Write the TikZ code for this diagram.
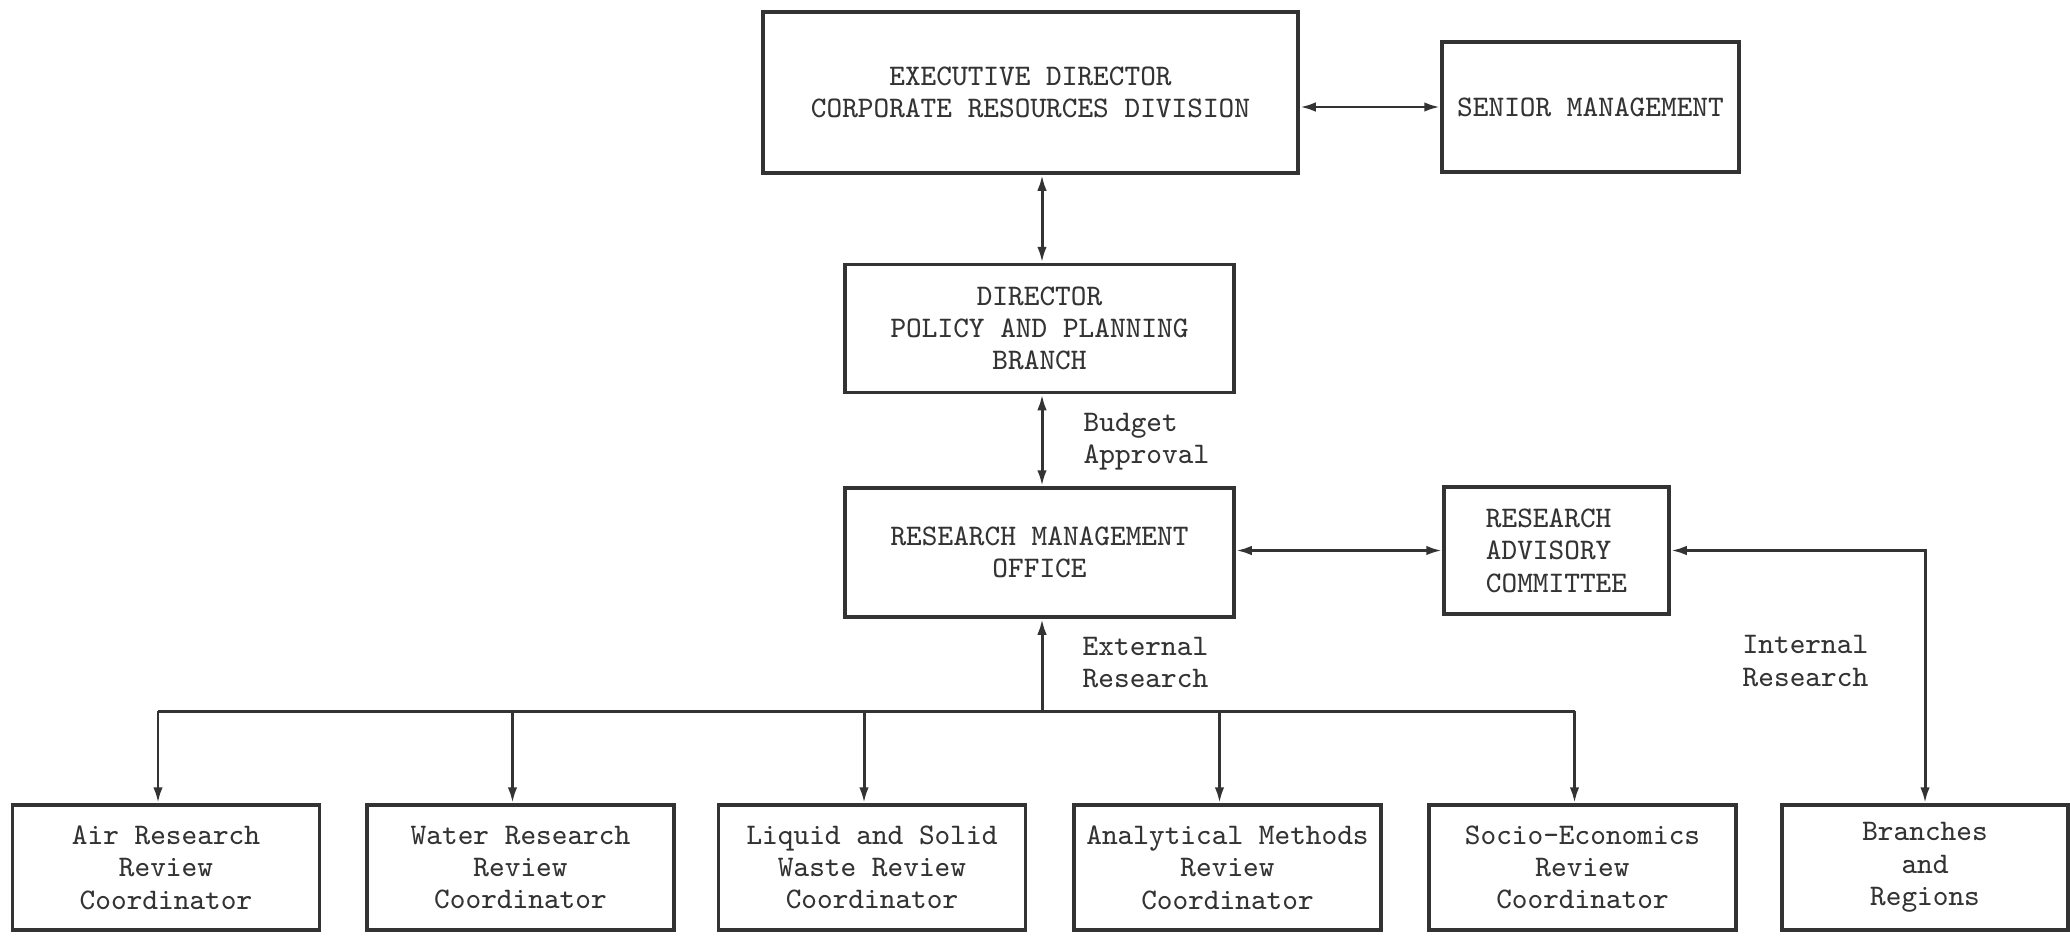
\documentclass[tikz,border=0pt]{standalone}
\usepackage{xcolor}
\usepackage{tikz}
\usetikzlibrary{arrows.meta}
\definecolor{inkgray}{rgb}{0.2, 0.2, 0.2}
\tikzstyle{conn} = [line width=0.85pt, draw=inkgray, {Latex[length=1.6mm,width=0.95mm]}-{Latex[length=1.6mm,width=0.95mm]}]
\tikzstyle{drop} = [line width=0.85pt, draw=inkgray, -{Latex[length=1.6mm,width=0.95mm]}]

\begin{document}
\begin{tikzpicture}[
    x=1cm, y=-1cm,
    office/.style={rectangle, draw=inkgray, line width=1pt, align=center, text=inkgray, font=\ttfamily\fontsize{8.5}{9.2}\selectfont, inner sep=0pt},
    coord/.style={office, minimum width=3.07cm, minimum height=1.25cm},
    note/.style={anchor=west, align=left, text=inkgray, font=\ttfamily\fontsize{8.5}{9.2}\selectfont, inner sep=0pt}]
    \useasboundingbox (0,0) rectangle (20.70,9.35);
    % top of the chart
    \node[office, minimum width=5.35cm, minimum height=1.61cm] (exec) at (10.305,0.925) {EXECUTIVE DIRECTOR\\CORPORATE RESOURCES DIVISION};
    \node[office, minimum width=2.97cm, minimum height=1.30cm] (senior) at (15.905,1.07) {SENIOR MANAGEMENT};
    \node[office, minimum width=3.89cm, minimum height=1.28cm] (dir) at (10.395,3.285) {DIRECTOR\\POLICY AND PLANNING\\BRANCH};
    \node[office, minimum width=3.89cm, minimum height=1.29cm] (rmo) at (10.395,5.525) {RESEARCH MANAGEMENT\\OFFICE};
    \node[office, align=left, minimum width=2.25cm, minimum height=1.27cm] (rac) at (15.565,5.505) {RESEARCH\\ADVISORY\\COMMITTEE};
    % coordinators
    \node[coord] (air)    at (1.66,8.675)   {Air Research\\Review\\Coordinator};
    \node[coord] (water)  at (5.205,8.675)  {Water Research\\Review\\Coordinator};
    \node[coord] (liquid) at (8.72,8.675)   {Liquid and Solid\\Waste Review\\Coordinator};
    \node[coord] (meth)   at (12.275,8.675) {Analytical Methods\\Review\\Coordinator};
    \node[coord] (socio)  at (15.825,8.675) {Socio-Economics\\Review\\Coordinator};
    \node[coord, minimum width=2.86cm] (br) at (19.25,8.675) {Branches\\and\\Regions};
    % spine and bus
    \coordinate (sp) at (10.42,0);
    \coordinate (bus) at (10.42,7.11);
    \draw[conn] (exec.south -| sp) -- (dir.north -| sp);
    \draw[conn] (dir.south -| sp) -- (rmo.north -| sp);
    \draw[conn] (exec.east |- senior.west) -- (senior.west);
    \draw[conn] (rmo.east |- rac.west) -- (rac.west);
    \draw[conn] (rac.east) -| (br.north);
    \draw[drop] (bus) -- (rmo.south -| bus);
    \coordinate (airtop)    at ([xshift=-0.8mm]air.north);
    \coordinate (watertop)  at ([xshift=-0.8mm]water.north);
    \coordinate (liquidtop) at ([xshift=-0.8mm]liquid.north);
    \coordinate (methtop)   at ([xshift=-0.8mm]meth.north);
    \coordinate (sociotop)  at ([xshift=-0.8mm]socio.north);
    \draw[line width=0.85pt, draw=inkgray] (bus -| airtop) -- (bus -| sociotop);
    \foreach \n in {air,water,liquid,meth,socio}
        \draw[drop] (bus -| \n top) -- (\n top);
    % labels
    \node[note] (budget) at (10.83,4.42)  {Budget\\Approval};
    \node[note] (ext)    at (10.82,6.625) {External\\Research};
    \node[note] (int)    at (17.42,6.61)  {Internal\\Research};
\end{tikzpicture}
\end{document}
